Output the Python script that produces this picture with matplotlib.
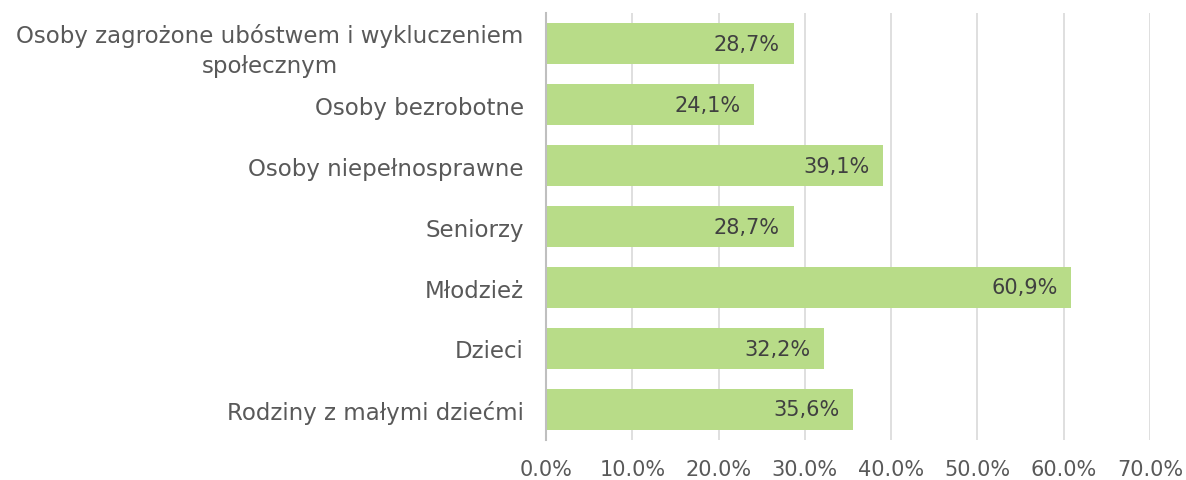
import matplotlib
matplotlib.use("Agg")
import matplotlib.pyplot as plt
from matplotlib.ticker import FuncFormatter

categories = [
    "Osoby zagrożone ubóstwem i wykluczeniem\nspołecznym",
    "Osoby bezrobotne",
    "Osoby niepełnosprawne",
    "Seniorzy",
    "Młodzież",
    "Dzieci",
    "Rodziny z małymi dziećmi",
]
values = [28.7, 24.1, 39.1, 28.7, 60.9, 32.2, 35.6]

plt.rcParams["font.family"] = ["DejaVu Sans"]

fig = plt.figure(figsize=(11.86, 4.81), dpi=100)
ax = fig.add_axes([546 / 1186, 1 - 441 / 481, (1150 - 546) / 1186, (441 - 14) / 481])

y = list(range(len(categories)))
ax.barh(y, values, height=0.66, color="#b8dc88", zorder=2)
ax.set_ylim(len(categories) - 0.5, -0.5)
ax.set_xlim(0, 70)
ax.set_xticks(range(0, 71, 10))
ax.xaxis.set_major_formatter(FuncFormatter(lambda v, p: f"{v:.1f}%"))

ax.set_yticks(y)
ax.set_yticklabels(categories, fontsize=16.5, color="#595959", ha="right",
                   multialignment="center", linespacing=1.4)
ax.tick_params(axis="y", length=0, pad=16)
ax.tick_params(axis="x", length=0, pad=14, labelsize=15, labelcolor="#595959")

ax.grid(axis="x", color="#d9d9d9", linewidth=1.2, zorder=0)
for s in ["top", "right", "bottom"]:
    ax.spines[s].set_visible(False)
ax.spines["left"].set_color("#bfbfbf")
ax.spines["left"].set_linewidth(1.5)
ax.spines["left"].set_zorder(3)

for yi, v in zip(y, values):
    ax.text(v - 1.6, yi, f"{v:.1f}%".replace(".", ","), ha="right", va="center",
            fontsize=15, color="#404040", zorder=4)

fig.savefig("out.png", dpi=100)
